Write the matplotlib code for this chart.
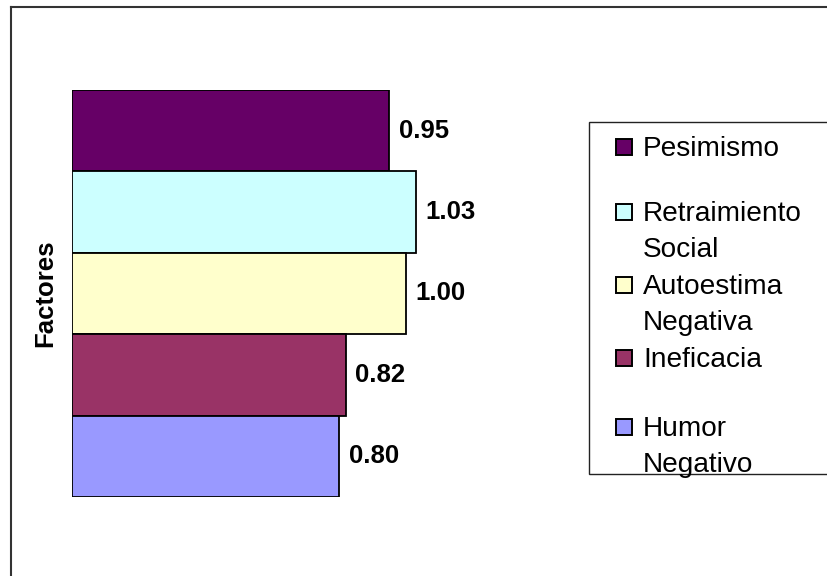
import matplotlib
matplotlib.use("Agg")
import matplotlib.pyplot as plt
from matplotlib.patches import Rectangle
from matplotlib.lines import Line2D
import numpy as np

plt.rcParams['font.family'] = ['Liberation Sans', 'DejaVu Sans']

categories = ["Pesimismo", "Retraimiento\nSocial", "Autoestima\nNegativa", "Ineficacia", "Humor\nNegativo"]
values = [0.95, 1.03, 1.00, 0.82, 0.80]
colors = ["#660066", "#CCFFFF", "#FFFFCC", "#993366", "#9999FF"]
value_labels = ["0.95", "1.03", "1.00", "0.82", "0.80"]

W, H = 827, 576
fig = plt.figure(figsize=(W / 100, H / 100), dpi=100)
fig.patch.set_facecolor("white")

# plot area in pixels
ax_left, ax_right, ax_top, ax_bottom = 72.3, 472.3, 90, 497
ax = fig.add_axes([ax_left / W, 1 - ax_bottom / H, (ax_right - ax_left) / W, (ax_bottom - ax_top) / H])

ypos = np.arange(len(values))
bars = ax.barh(ypos, values, height=1.0, color=colors, edgecolor="black", linewidth=1.3)
ax.set_ylim(len(values) - 0.5, -0.5)
ax.set_xlim(0, 1.2)
ax.bar_label(bars, labels=value_labels, padding=7, fontsize=18.5, fontweight="bold")

for s in ax.spines.values():
    s.set_visible(False)
ax.set_xticks([])
ax.set_yticks([])
ax.set_ylabel("Factores", fontsize=18.5, fontweight="bold", va="center")
ax.yaxis.set_label_coords((45 - ax_left) / (ax_right - ax_left), 0.5)

# outer chart border (top and left visible)
fig.add_artist(Line2D([11 / W, 1.01], [1 - 7 / H, 1 - 7 / H], transform=fig.transFigure, color="#333333", linewidth=1.5))
fig.add_artist(Line2D([11 / W, 11 / W], [1 - 7 / H, -0.01], transform=fig.transFigure, color="#333333", linewidth=1.5))

# legend box
lx0, ly_top, ly_bot = 589, 122, 474
fig.add_artist(Rectangle((lx0 / W, 1 - ly_bot / H), (W + 10 - lx0) / W, (ly_bot - ly_top) / H,
                         transform=fig.transFigure, facecolor="white", edgecolor="#222222", linewidth=1.0))

first_line_y = [149, 214, 287, 360, 429]
sq = 16
for lab, col, yc in zip(categories, colors, first_line_y):
    fig.add_artist(Rectangle(((624 - sq / 2) / W, 1 - (yc - 2 + sq / 2) / H), sq / W, sq / H,
                             transform=fig.transFigure, facecolor=col, edgecolor="black", linewidth=1.4))
    lines = lab.split("\n")
    for i, ln in enumerate(lines):
        fig.text(643 / W, 1 - (yc + 36 * i) / H, ln, fontsize=20.2, ha="left", va="center")

fig.savefig("out.png", dpi=100, facecolor="white")
